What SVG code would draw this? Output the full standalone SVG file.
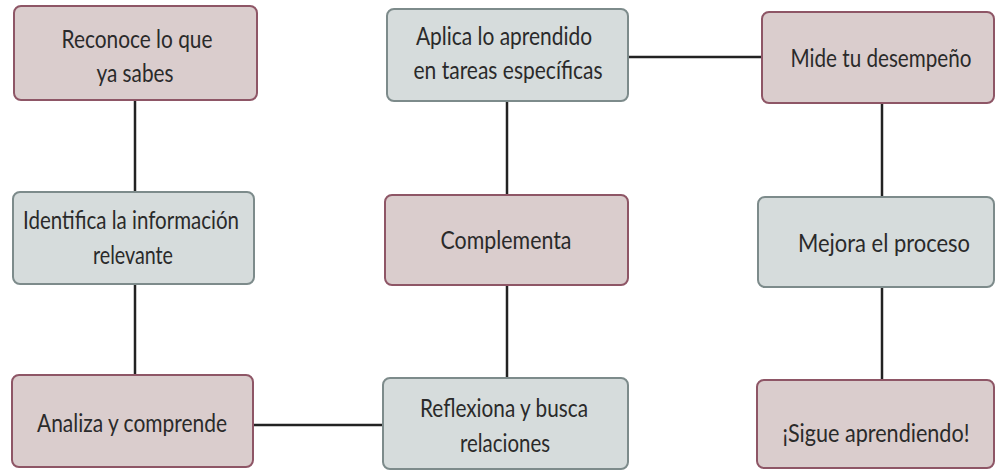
<svg xmlns="http://www.w3.org/2000/svg" width="997" height="470" viewBox="0 0 997 470">
<style>
.pink{fill:#dacdcd;stroke:#8e5666;stroke-width:2}
.gray{fill:#d6dcdc;stroke:#7d8b8b;stroke-width:2}
text{font-family:Lato,"Open Sans","Liberation Sans",sans-serif;font-size:25px;fill:#2a2a2a;text-anchor:middle}
.conn line{stroke:#222;stroke-width:2.5}
</style>
<rect width="997" height="470" fill="#fff"/>
<g id="connectors" class="conn">
<line x1="135" y1="100" x2="135" y2="192"/>
<line x1="135" y1="284" x2="135" y2="375"/>
<line x1="507" y1="101" x2="507" y2="195"/>
<line x1="507" y1="285" x2="507" y2="378"/>
<line x1="882" y1="103" x2="882" y2="197"/>
<line x1="882" y1="287" x2="882" y2="380"/>
<line x1="628" y1="57" x2="762" y2="57"/>
<line x1="253" y1="425" x2="383" y2="425"/>
</g>
<g id="n1"><rect class="pink" x="14" y="6" width="243" height="94" rx="7"/><text x="137" y="48" textLength="151" lengthAdjust="spacingAndGlyphs">Reconoce lo que</text><text x="135" y="82" textLength="77" lengthAdjust="spacingAndGlyphs">ya sabes</text></g>
<g id="n2"><rect class="gray" x="387" y="9" width="241" height="92" rx="7"/><text x="504" y="45" textLength="176" lengthAdjust="spacingAndGlyphs">Aplica lo aprendido</text><text x="508" y="79" textLength="189" lengthAdjust="spacingAndGlyphs">en tareas específicas</text></g>
<g id="n3"><rect class="pink" x="762" y="12" width="232" height="91" rx="7"/><text x="881" y="67" textLength="181" lengthAdjust="spacingAndGlyphs">Mide tu desempeño</text></g>
<g id="n4"><rect class="gray" x="13" y="192" width="241" height="92" rx="7"/><text x="131" y="229" textLength="216" lengthAdjust="spacingAndGlyphs">Identifica la información</text><text x="133" y="264" textLength="80" lengthAdjust="spacingAndGlyphs">relevante</text></g>
<g id="n5"><rect class="pink" x="385" y="195" width="243" height="90" rx="7"/><text x="506" y="249" textLength="131" lengthAdjust="spacingAndGlyphs">Complementa</text></g>
<g id="n6"><rect class="gray" x="758" y="197" width="236" height="90" rx="7"/><text x="884" y="252" textLength="172" lengthAdjust="spacingAndGlyphs">Mejora el proceso</text></g>
<g id="n7"><rect class="pink" x="12" y="375" width="241" height="92" rx="7"/><text x="132" y="432" textLength="190" lengthAdjust="spacingAndGlyphs">Analiza y comprende</text></g>
<g id="n8"><rect class="gray" x="383" y="378" width="245" height="91" rx="7"/><text x="504" y="417" textLength="168" lengthAdjust="spacingAndGlyphs">Reflexiona y busca</text><text x="505" y="452" textLength="90" lengthAdjust="spacingAndGlyphs">relaciones</text></g>
<g id="n9"><rect class="pink" x="757" y="380" width="237" height="88" rx="7"/><text x="876" y="442" textLength="187" lengthAdjust="spacingAndGlyphs">¡Sigue aprendiendo!</text></g>
</svg>
